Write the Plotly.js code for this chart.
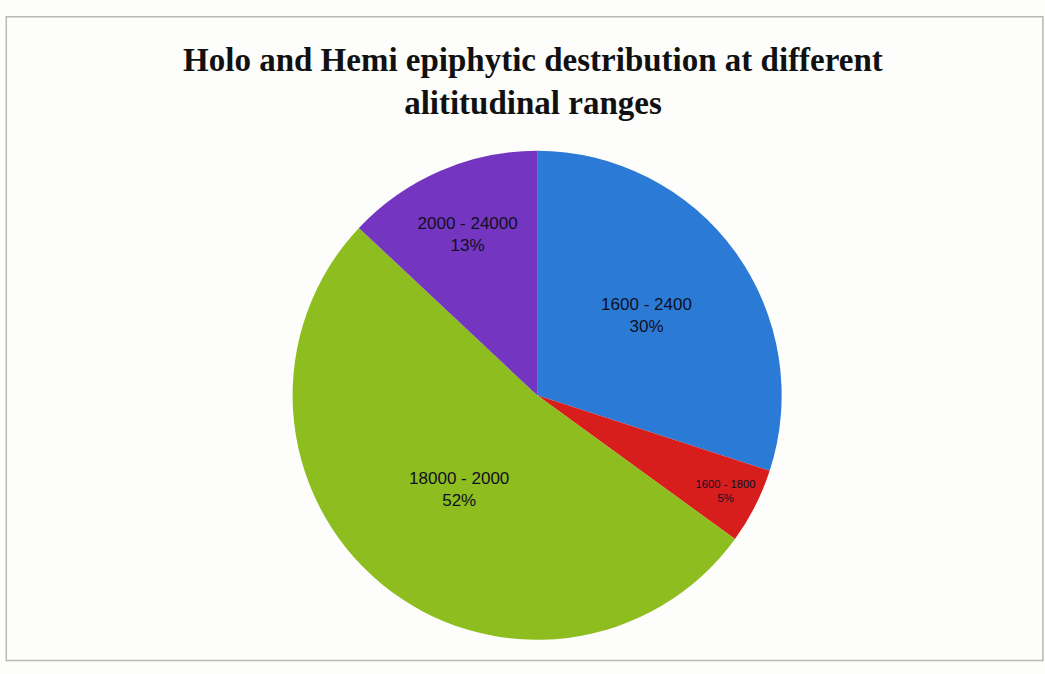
<!DOCTYPE html>
<html>
<head>
<meta charset="utf-8">
<script src="https://cdn.plot.ly/plotly-3.0.1.min.js"></script>
<style>html,body{margin:0;padding:0;background:#fdfdfb;}#chart{width:1045px;height:674px;}</style>
</head>
<body>
<div id="chart"></div>
<script>
const categories = ["1600 - 2400", "1600 - 1800", "18000 - 2000", "2000 - 24000"];
const values = [30, 5, 52, 13];
const colors = ["#2b7bd6", "#d81d1d", "#8dbd1e", "#7436c0"];

const trace = {
  type: "pie",
  labels: categories,
  values: values,
  sort: false,
  direction: "clockwise",
  rotation: 0,
  marker: {colors: colors, line: {width: 0}},
  texttemplate: "%{label}<br>%{percent:.0%}",
  textposition: "inside",
  insidetextorientation: "horizontal",
  textfont: {family: "Liberation Sans Narrow, Liberation Sans, Arial, sans-serif", size: 17, color: "#0f0f22"},
  hoverinfo: "label+percent",
  showlegend: false,
  domain: {x: [0.28, 0.748], y: [0.045, 0.782]}
};

const layout = {
  width: 1045,
  height: 674,
  margin: {l: 0, r: 0, t: 0, b: 0},
  paper_bgcolor: "#fdfdfb",
  title: {
    text: "<b>Holo and Hemi epiphytic destribution at different<br>alititudinal ranges</b>",
    font: {family: "Liberation Serif, Times New Roman, serif", size: 33, color: "#111"},
    x: 0.51, xanchor: "center",
    y: 0.895, yanchor: "middle"
  },
  shapes: [{
    type: "rect", xref: "paper", yref: "paper",
    x0: 0.006, x1: 0.998, y0: 0.02, y1: 0.975,
    line: {color: "#b8b8b8", width: 1.5}
  }]
};

Plotly.newPlot("chart", [trace], layout, {displayModeBar: false, staticPlot: true});
</script>
</body>
</html>
